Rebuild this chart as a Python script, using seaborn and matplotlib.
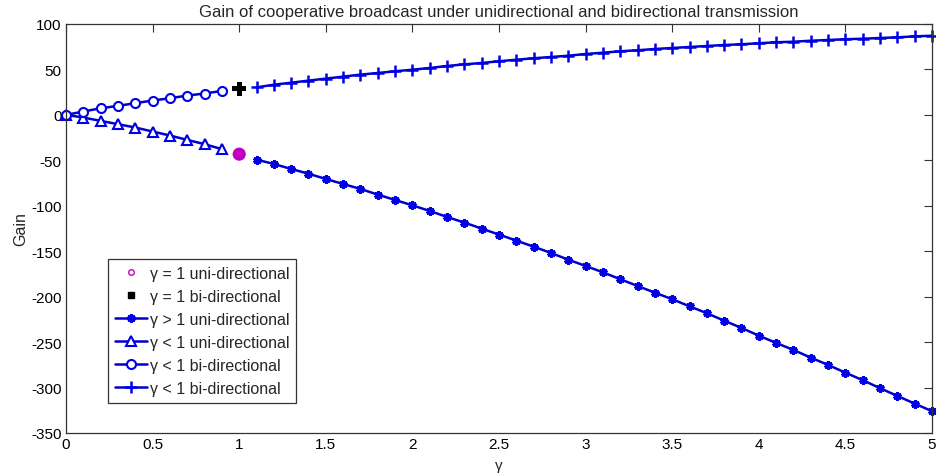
import matplotlib
matplotlib.use("Agg")
import matplotlib.pyplot as plt
from matplotlib.lines import Line2D
import seaborn as sns

# ---- data ----
gamma_lo = [0.0, 0.1, 0.2, 0.3, 0.4, 0.5, 0.6, 0.7, 0.8, 0.9]
bi_lo = [0.0, 3.7, 7.3, 9.9, 12.9, 15.8, 18.3, 21.3, 23.5, 26.4]
uni_lo = [0.0, -2.9, -6.6, -10.2, -13.9, -18.3, -22.7, -27.5, -32.2, -37.7]

gamma_one = [1.0]
uni_one = [-43.2]
bi_one = [28.6]

gamma_hi = [1.1, 1.2, 1.3, 1.4, 1.5, 1.6, 1.7, 1.8, 1.9, 2.0,
            2.1, 2.2, 2.3, 2.4, 2.5, 2.6, 2.7, 2.8, 2.9, 3.0,
            3.1, 3.2, 3.3, 3.4, 3.5, 3.6, 3.7, 3.8, 3.9, 4.0,
            4.1, 4.2, 4.3, 4.4, 4.5, 4.6, 4.7, 4.8, 4.9, 5.0]
uni_hi = [-49.2, -54.0, -59.5, -64.7, -70.5, -76.0, -81.5, -87.7, -93.6, -99.5,
          -105.7, -112.3, -118.5, -125.1, -131.7, -138.3, -145.0, -151.9, -159.3, -166.2,
          -173.2, -180.8, -188.2, -195.6, -202.8, -210.6, -218.2, -226.4, -234.4, -242.9,
          -250.9, -258.6, -267.1, -275.1, -283.6, -291.9, -300.7, -309.2, -317.7, -326.0]
bi_hi = [30.3, 33.2, 35.4, 37.7, 39.9, 42.1, 44.3, 46.1, 48.0, 49.7,
         51.6, 53.8, 55.6, 57.1, 59.0, 60.7, 62.3, 63.7, 65.1, 67.0,
         68.4, 70.0, 71.1, 72.5, 73.6, 74.7, 75.8, 76.9, 77.7, 78.8,
         79.9, 80.5, 81.6, 82.4, 83.2, 83.8, 84.6, 85.3, 86.4, 87.1]

x_ticks = [0, 0.5, 1, 1.5, 2, 2.5, 3, 3.5, 4, 4.5, 5]
x_tick_labels = ["0", "0.5", "1", "1.5", "2", "2.5", "3", "3.5", "4", "4.5", "5"]
y_ticks = [-350, -300, -250, -200, -150, -100, -50, 0, 50, 100]

title = "Gain of cooperative broadcast under unidirectional and bidirectional transmission"
labels = ["\u03b3 = 1 uni-directional", "\u03b3 = 1 bi-directional",
          "\u03b3 > 1 uni-directional", "\u03b3 < 1 uni-directional",
          "\u03b3 < 1 bi-directional", "\u03b3 < 1 bi-directional"]

sns.set_style("white")
plt.rcParams["font.family"] = ["Liberation Sans", "DejaVu Sans"]
plt.rcParams["axes.unicode_minus"] = False

BLUE = "#0000E6"
LINE = "#0000CC"

fig = plt.figure(figsize=(9.37, 4.77), dpi=100)
ax = fig.add_axes([66 / 937, 1 - 434 / 477, 866 / 937, 409 / 477])

lw = 1.8
star = dict(marker=(6, 2, 0), markersize=6, markeredgewidth=2.2, markeredgecolor=BLUE)
tri = dict(marker="^", markersize=6.5, markerfacecolor="white", markeredgewidth=1.5,
           markeredgecolor=BLUE)
circ = dict(marker="o", markersize=6.5, markerfacecolor="white", markeredgewidth=1.5,
            markeredgecolor=BLUE)
plus = dict(marker="+", markersize=8, markeredgewidth=1.8, markeredgecolor=BLUE)

sns.lineplot(x=gamma_hi, y=uni_hi, ax=ax, color=LINE, linewidth=lw, clip_on=False, **star)
sns.lineplot(x=gamma_lo, y=uni_lo, ax=ax, color=LINE, linewidth=lw, clip_on=False, **tri)
sns.lineplot(x=gamma_lo, y=bi_lo, ax=ax, color=LINE, linewidth=lw, clip_on=False, **circ)
sns.lineplot(x=gamma_hi, y=bi_hi, ax=ax, color=LINE, linewidth=lw, clip_on=False, **plus)
sns.scatterplot(x=gamma_one, y=uni_one, ax=ax, color="#C000C0", s=90, edgecolor="none", zorder=5)
sns.scatterplot(x=gamma_one, y=bi_one, ax=ax, color="black", marker="P", s=110, edgecolor="none", zorder=5)

ax.set_xlim(0, 5)
ax.set_ylim(-350, 100)
ax.set_xticks(x_ticks)
ax.set_xticklabels(x_tick_labels)
ax.set_yticks(y_ticks)
ax.tick_params(direction="in", length=6, width=0.8, top=True, right=True,
               labeltop=False, labelright=False, labelsize=11, colors="#333333",
               labelcolor="black", pad=3)
for sp in ax.spines.values():
    sp.set_visible(True)
    sp.set_color("#333333")
    sp.set_linewidth(0.9)

ax.set_title(title, fontsize=12, pad=6)
ax.set_xlabel("\u03b3", fontsize=11, labelpad=5)
ax.set_ylabel("Gain", fontsize=11.5, labelpad=2)

handles = [
    Line2D([], [], linestyle="none", marker="o", markersize=4, markerfacecolor="white",
           markeredgecolor="#C000C0", markeredgewidth=1.0),
    Line2D([], [], linestyle="none", marker="s", markersize=5, color="black"),
    Line2D([], [], color=LINE, linewidth=lw, **star),
    Line2D([], [], color=LINE, linewidth=lw, **tri),
    Line2D([], [], color=LINE, linewidth=lw, **circ),
    Line2D([], [], color=LINE, linewidth=lw, **plus),
]
leg = ax.legend(handles, labels, loc="lower left", bbox_to_anchor=(42 / 866, 30 / 409),
                borderaxespad=0, fontsize=11.5, frameon=True, fancybox=False,
                handlelength=2.0, handletextpad=0.15, labelspacing=0.5,
                borderpad=0.45)
leg.get_frame().set_edgecolor("#333333")
leg.get_frame().set_linewidth(0.9)
leg.get_frame().set_alpha(1)

fig.savefig("out.png", dpi=100)
